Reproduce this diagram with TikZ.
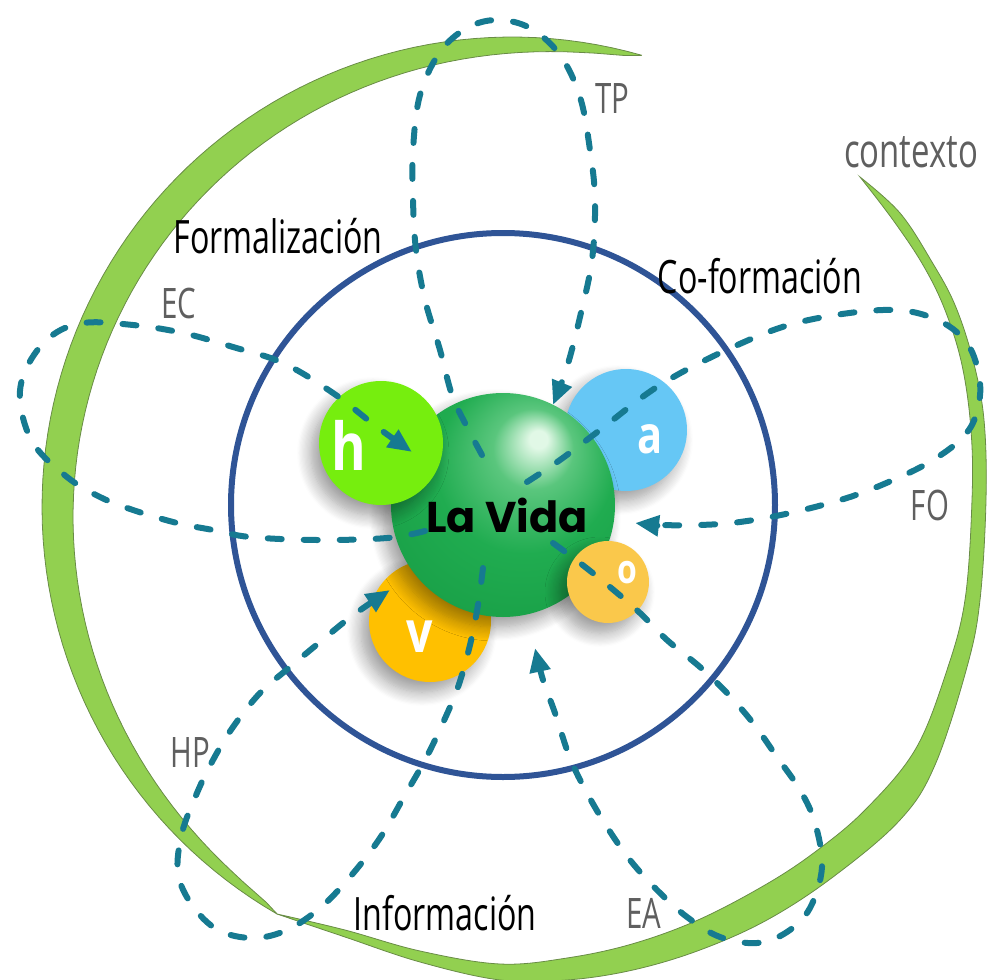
\documentclass[tikz,border=0pt]{standalone}
\usepackage{fontspec}
\usetikzlibrary{arrows.meta,shadows.blur}
\newfontfamily\condf{Open Sans}[FakeStretch=0.70]
\newfontfamily\letf{Open Sans}[FakeStretch=0.80]
\newfontfamily\vidaf{Poppins}
\definecolor{ringgreen}{RGB}{146,208,80}
\definecolor{ringedge}{RGB}{105,140,70}
\definecolor{bluec}{RGB}{47,84,150}
\definecolor{dashc}{RGB}{22,122,145}
\definecolor{hgreen}{RGB}{118,238,14}
\definecolor{ablue}{RGB}{102,199,245}
\definecolor{vorange}{RGB}{255,192,0}
\definecolor{oyellow}{RGB}{250,200,75}
\definecolor{vidagreen}{RGB}{32,172,80}
\definecolor{vidahi}{RGB}{225,248,230}
\definecolor{vidamid}{RGB}{90,198,125}
\definecolor{vidaedge}{RGB}{24,158,70}
\definecolor{labgray}{RGB}{95,95,95}
\pgfdeclareradialshading{vidaball}{\pgfpoint{8.25bp}{15.25bp}}{color(0bp)=(vidahi); color(2bp)=(vidahi); color(9bp)=(vidamid); color(20bp)=(vidagreen); color(36bp)=(vidaedge); color(50bp)=(vidaedge)}
\tikzset{
  dashloop/.style={draw=dashc, line width=3pt, dash pattern=on 7pt off 11pt, line cap=round},
  tipped/.style={-{Triangle[length=12pt,width=10pt]}},
  sphere/.style={circle, inner sep=0pt, blur shadow={shadow xshift=-4pt, shadow yshift=-5pt, shadow blur radius=7pt, shadow blur steps=12, shadow opacity=40}},
  lab/.style={anchor=base, inner sep=0pt, font={\condf\fontsize{23pt}{27pt}\selectfont}},
  tag/.style={anchor=base, inner sep=0pt, text=labgray, font={\condf\fontsize{21pt}{25pt}\selectfont}},
  letter/.style={anchor=base, inner sep=0pt, text=white},
  ring/.style={fill=ringgreen, draw=ringedge, line width=0.4pt}
}
\begin{document}
\begin{tikzpicture}[x=0.5pt,y=-0.5pt,
  declare function={thk(\t)=33*(max(sin((\t-74)*1.08434),0.0001))^0.6;}]
\useasboundingbox (0,0) rectangle (987,980);
% outer "contexto" ring: two crescents
\path[ring] plot[domain=74:240, samples=90, variable=\t] ({512+470*cos(\t)},{507-470*sin(\t)})
  -- plot[domain=240:74, samples=90, variable=\t]
  ({512+(470-thk(\t))*cos(\t)},{507-(470-thk(\t))*sin(\t)}) -- cycle;
\path[ring] plot[smooth, tension=0.6] coordinates {(277,914) (345,937) (420,962) (500,980) (567,980) (633,970) (700,950) (767,920) (833,877) (900,820) (935,765) (967,667) (980,600) (986,500) (984,420) (973,360) (955,305) (932,262) (900,213) (860,177)}
  -- plot[smooth, tension=0.6] coordinates {(860,177) (893,220) (923,265) (945,310) (962,365) (971,430) (972,500) (965,600) (946,673) (915,750) (865,810) (815,852) (765,885) (698,920) (632,944) (567,958) (500,964) (420,951) (345,930) (277,914)} -- cycle;
% inner circle
\node[circle, draw=bluec, line width=3pt, minimum size=272pt, inner sep=0pt] (lifecircle) at (503,505) {};
% spheres
\node[sphere, fill=ablue, minimum size=61pt] (a) at (626,430) {};
\node[sphere, fill=vorange, minimum size=61pt] (v) at (430,621) {};
\node[sphere, shading=vidaball, minimum size=112pt] (vida) at (503,505) {};
\node[sphere, fill=hgreen, minimum size=62pt] (h) at (381,443) {};
\node[sphere, fill=oyellow, minimum size=41pt] (o) at (608,582) {};
% letters
\node[letter, font={\letf\bfseries\fontsize{33pt}{37pt}\selectfont}] (ht) at (349,470) {h};
\node[letter, font={\letf\bfseries\fontsize{26pt}{30pt}\selectfont}] (at) at (650,453) {a};
\node[letter, font={\letf\bfseries\fontsize{29pt}{33pt}\selectfont}] (vt) at (420,652) {v};
\node[letter, font={\letf\bfseries\fontsize{20pt}{24pt}\selectfont}] (ot) at (627,583) {o};
\node[anchor=base, inner sep=0pt, font={\vidaf\bfseries\fontsize{21.5pt}{25pt}\selectfont}] (vidat) at (507,532) {La Vida};
% coordinates of loop ends
\coordinate (tpS) at (482,455); \coordinate (tpE) at (553,405);
\coordinate (ecS) at (425,531); \coordinate (ecE) at (412,452);
\coordinate (foS) at (527,482); \coordinate (foE) at (635,523);
\coordinate (hpS) at (483,568); \coordinate (hpE) at (390,590);
\coordinate (eaS) at (553,543); \coordinate (eaE) at (535,648);
% dashed loops
\draw[dashloop, tipped] plot[smooth, tension=0.6] coordinates {(tpS) (466,425) (452,395) (440,350) (425,300) (416,250) (413,200) (413,150) (420,95) (440,52) (467,28) (497,20) (530,28) (560,55) (580,97) (590,150) (595,200) (592,260) (580,317) (567,367) (tpE)};
\draw[dashloop, tipped] plot[smooth, tension=0.6] coordinates {(ecS) (387,538) (317,540) (250,537) (213,530) (177,523) (133,510) (100,497) (67,477) (33,443) (20,400) (27,367) (50,337) (83,323) (133,325) (183,333) (233,347) (283,363) (333,393) (377,427) (ecE)};
\draw[dashloop, tipped] plot[smooth, tension=0.6] coordinates {(foS) (560,460) (600,430) (660,385) (733,347) (800,322) (883,310) (933,318) (967,343) (980,383) (975,418) (960,440) (933,460) (900,477) (850,497) (790,513) (740,522) (700,525) (660,525) (foE)};
\draw[dashloop, tipped] plot[smooth, tension=0.6] coordinates {(hpS) (478,605) (470,645) (458,687) (442,725) (425,760) (405,795) (380,838) (350,877) (320,908) (287,930) (253,938) (218,930) (192,905) (178,873) (182,833) (197,793) (213,760) (233,727) (260,693) (290,667) (320,642) (352,616) (hpE)};
\draw[dashloop, tipped] plot[smooth, tension=0.6] coordinates {(eaS) (580,563) (610,587) (640,613) (667,640) (700,667) (727,693) (753,723) (777,757) (800,790) (815,823) (822,867) (810,908) (787,932) (757,943) (720,937) (687,917) (657,890) (630,860) (607,827) (587,793) (570,758) (555,713) (543,680) (eaE)};
% labels
\node[lab] (formal) at (278,253) {Formalización};
\node[lab] (coform) at (760,293) {Co-formación};
\node[lab] (inform) at (445,930) {Información};
\node[anchor=base, inner sep=0pt, text=labgray, font={\condf\fontsize{23.5pt}{27pt}\selectfont}] (ctx) at (911,167) {contexto};
\node[tag] (tp) at (612,113) {TP};
\node[tag] (ec) at (179,318) {EC};
\node[tag] (fo) at (930,520) {FO};
\node[tag] (hp) at (190,767) {HP};
\node[tag] (ea) at (644,928) {EA};
\end{tikzpicture}
\end{document}
